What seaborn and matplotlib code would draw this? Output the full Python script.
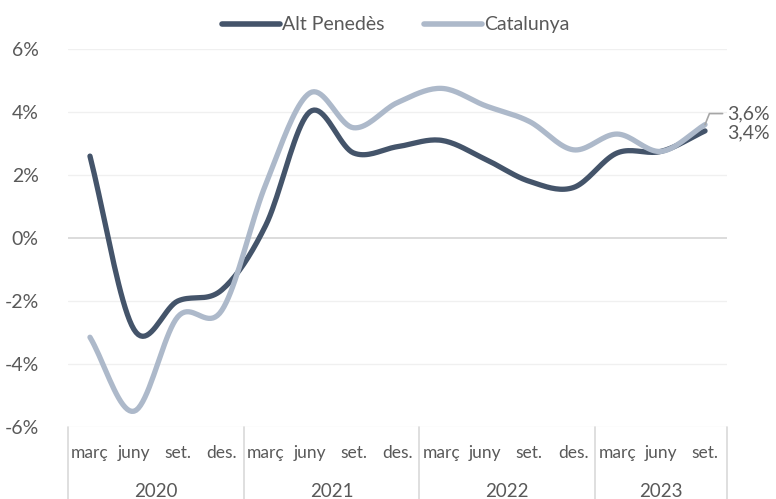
import numpy as np
import pandas as pd
import seaborn as sns
import matplotlib.pyplot as plt
from matplotlib.lines import Line2D

quarters = ['març', 'juny', 'set.', 'des.'] * 3 + ['març', 'juny', 'set.']
years = ['2020', '2021', '2022', '2023']
alt_penedes = [2.6, -2.9, -2.0, -1.65, 0.4, 4.0, 2.7, 2.9, 3.1, 2.5, 1.8, 1.6, 2.7, 2.75, 3.4]
catalunya = [-3.15, -5.5, -2.5, -2.3, 1.7, 4.6, 3.5, 4.3, 4.75, 4.2, 3.7, 2.8, 3.3, 2.75, 3.6]

dark = '#44546a'
light = '#adb9ca'
txt = '#595959'


def smooth(y, n=20):
    # catmull-rom curve through the points (like Excel's smoothed line)
    y = np.asarray(y, float)
    p = np.concatenate([[2 * y[0] - y[1]], y, [2 * y[-1] - y[-2]]])
    xs, ys = [], []
    for i in range(len(y) - 1):
        p0, p1, p2, p3 = p[i], p[i + 1], p[i + 2], p[i + 3]
        t = np.linspace(0, 1, n, endpoint=False)
        v = 0.5 * (2 * p1 + (-p0 + p2) * t + (2 * p0 - 5 * p1 + 4 * p2 - p3) * t ** 2
                   + (-p0 + 3 * p1 - 3 * p2 + p3) * t ** 3)
        xs.extend(i + t)
        ys.extend(v)
    xs.append(len(y) - 1)
    ys.append(y[-1])
    return np.array(xs), np.array(ys)


rows = []
for name, vals in [('Alt Penedès', alt_penedes), ('Catalunya', catalunya)]:
    sx, sy = smooth(vals)
    rows.append(pd.DataFrame({'x': sx, 'y': sy, 'serie': name}))
df = pd.concat(rows, ignore_index=True)

sns.set_style('white')
plt.rcParams['font.family'] = ['Lato', 'DejaVu Sans']

fig = plt.figure(figsize=(7.76, 4.99), dpi=100)
ax = fig.add_axes([68 / 776, 1 - 427 / 499, 659 / 776, 378 / 499])

for yv in [-6, -4, -2, 2, 4, 6]:
    ax.axhline(yv, color='#f0f0f0', lw=1, zorder=0)
ax.axhline(0, color='#d9d9d9', lw=1.3, zorder=0)

sns.lineplot(data=df, x='x', y='y', hue='serie', palette={'Alt Penedès': dark, 'Catalunya': light},
             linewidth=3.8, ax=ax, legend=False, sort=False, estimator=None)
for l in ax.lines:
    l.set_solid_capstyle('round')

ax.set_xlim(-0.5, 14.5)
ax.set_ylim(-6, 6)
ax.set_yticks([-6, -4, -2, 0, 2, 4, 6])
ax.set_yticklabels([f'{v}%' for v in [-6, -4, -2, 0, 2, 4, 6]], color=txt, fontsize=14)
ax.tick_params(axis='y', length=0, pad=21)
ax.set_xticks([])
ax.set_xlabel('')
ax.set_ylabel('')
for s in ax.spines.values():
    s.set_visible(False)

trans = ax.get_xaxis_transform()
for i, q in enumerate(quarters):
    ax.text(i, -0.07, q, transform=trans, ha='center', va='center', fontsize=12.5, color=txt)
for k, yr in enumerate(years):
    ax.text(4 * k + (1.5 if k < 3 else 1), -0.17, yr, transform=trans, ha='center', va='center',
            fontsize=13.5, color=txt)
for xb in [-0.5, 3.5, 7.5, 11.5, 14.5]:
    ax.plot([xb, xb], [0, -0.2], transform=trans, color='#d9d9d9', lw=1.2, clip_on=False)

# end labels
ax.plot([14, 14.1, 14.4], [3.6, 3.95, 3.95], color='#a6a6a6', lw=1.2, clip_on=False)
ax.text(14.5, 3.95, '3,6%', va='center', ha='left', fontsize=14, color=txt)
ax.text(14.5, 3.35, '3,4%', va='center', ha='left', fontsize=14, color=txt)

handles = [Line2D([], [], color=dark, lw=4, solid_capstyle='round'),
           Line2D([], [], color=light, lw=4, solid_capstyle='round')]
fig.legend(handles, ['Alt Penedès', 'Catalunya'], loc='center', bbox_to_anchor=(0.51, 0.95),
           ncol=2, frameon=False, fontsize=14, handlelength=3.0, handletextpad=0.1,
           columnspacing=2.0, labelcolor=txt)

fig.savefig('out.png', dpi=100)
